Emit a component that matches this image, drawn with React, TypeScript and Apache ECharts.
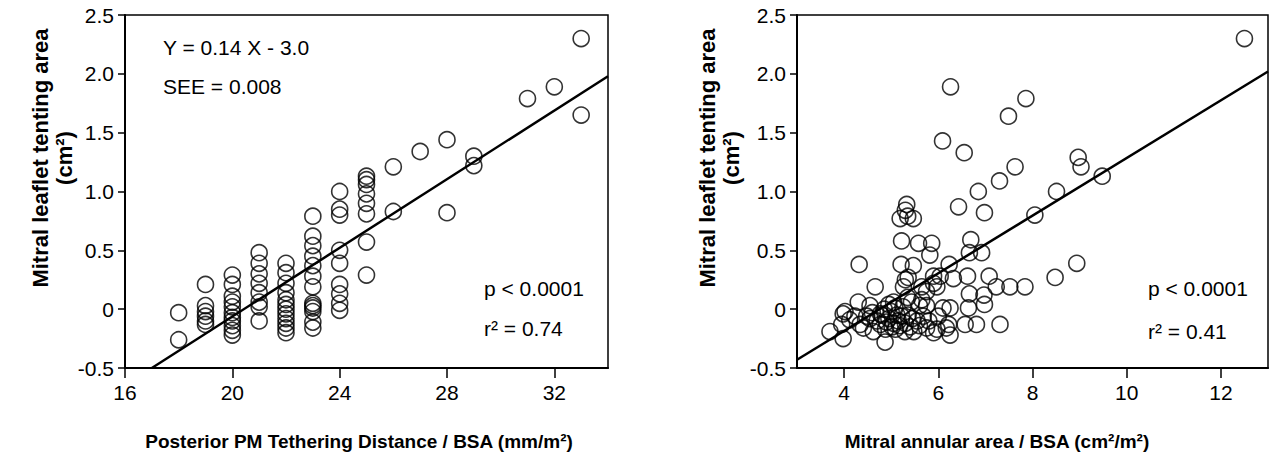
import React, { useEffect, useRef } from "react";
import * as echarts from "echarts";

const FONT = "'Liberation Sans', Arial, sans-serif";

// Left panel: posterior PM tethering distance / BSA vs tenting area
const leftPoints: [number, number][] = [
  [18, -0.03], [18, -0.26],
  [19, 0.21], [19, 0.03], [19, -0.02], [19, -0.06], [19, -0.1], [19, -0.13],
  [20, 0.29], [20, 0.21], [20, 0.11], [20, 0.06], [20, 0.02], [20, -0.03], [20, -0.07], [20, -0.1], [20, -0.14], [20, -0.18], [20, -0.22],
  [21, 0.48], [21, 0.39], [21, 0.3], [21, 0.22], [21, 0.14], [21, 0.06], [21, 0.02], [21, -0.1],
  [22, 0.39], [22, 0.31], [22, 0.22], [22, 0.14], [22, 0.08], [22, 0.04], [22, 0.0], [22, -0.04], [22, -0.08], [22, -0.12], [22, -0.16], [22, -0.2],
  [23, 0.79], [23, 0.62], [23, 0.54], [23, 0.45], [23, 0.37], [23, 0.28], [23, 0.19], [23, 0.05], [23, 0.03], [23, 0.01], [23, -0.02], [23, -0.11], [23, -0.16],
  [24, 1.0], [24, 0.85], [24, 0.8], [24, 0.5], [24, 0.39], [24, 0.21], [24, 0.13], [24, 0.05], [24, -0.01],
  [25, 1.13], [25, 1.1], [25, 1.06], [25, 0.98], [25, 0.9], [25, 0.81], [25, 0.57], [25, 0.29],
  [26, 1.21], [26, 0.83],
  [27, 1.34],
  [28, 1.44], [28, 0.82],
  [29, 1.3], [29, 1.22],
  [31, 1.79],
  [32, 1.89],
  [33, 2.3], [33, 1.65],
];
const leftFitLine: [number, number][] = [[17.0, -0.5], [34, 1.98]];
const leftXTicks = [16, 20, 24, 28, 32];

// Right panel: mitral annular area / BSA vs tenting area
const rightPoints: [number, number][] = [
  [12.5, 2.3], [6.26, 1.89], [7.86, 1.79], [7.49, 1.64], [6.09, 1.43], [6.55, 1.33],
  [8.97, 1.29], [9.03, 1.21], [7.63, 1.21], [9.48, 1.13], [7.3, 1.09], [6.85, 1.0],
  [8.51, 1.0], [6.43, 0.87], [6.98, 0.82], [8.05, 0.8],
  [5.33, 0.89], [5.3, 0.84], [5.19, 0.77], [5.47, 0.77], [5.35, 0.79],
  [5.22, 0.58], [5.58, 0.56], [5.86, 0.56], [5.82, 0.46], [6.69, 0.59], [6.66, 0.48], [6.92, 0.48],
  [4.32, 0.38], [5.21, 0.38], [5.47, 0.37], [6.23, 0.38], [8.94, 0.39],
  [8.48, 0.27], [7.08, 0.28], [6.62, 0.28], [6.32, 0.26], [5.9, 0.28], [5.36, 0.27],
  [4.66, 0.19], [5.26, 0.19], [5.65, 0.19], [5.97, 0.19], [7.23, 0.19], [7.52, 0.19], [7.84, 0.19],
  [6.66, 0.13], [6.97, 0.12], [6.98, 0.04], [6.64, 0.01], [4.3, 0.06],
  [5.75, 0.15], [5.9, 0.22], [5.3, 0.25], [6.04, 0.28],
  [4.02, -0.02], [3.98, -0.04], [3.7, -0.19], [3.98, -0.25], [3.95, -0.13], [4.34, -0.13],
  [4.55, -0.08], [4.87, -0.28], [4.62, -0.19], [6.57, -0.13], [6.81, -0.13], [7.31, -0.13],
  [6.25, -0.22], [5.9, -0.2], [5.29, -0.19], [6.25, 0.01], [6.22, -0.13], [6.0, -0.06],
  [5.68, -0.06], [5.75, -0.16], [5.43, 0.06], [5.36, -0.05], [5.08, 0.01], [4.95, 0.04],
  [4.8, -0.05], [4.77, -0.13], [5.05, -0.12], [4.48, -0.06], [4.23, -0.06], [5.6, 0.03],
  [5.09, -0.17], [5.48, -0.19], [4.77, -0.04], [5.22, -0.06], [5.05, 0.06], [5.75, 0.03],
  [6.1, 0.01], [5.97, -0.17], [6.17, -0.16], [4.55, 0.03], [4.88, -0.17], [4.41, -0.16],
  [4.12, -0.09], [5.65, 0.08], [5.15, -0.1], [4.95, -0.08], [5.3, -0.12], [5.0, -0.02],
  [5.4, -0.15], [5.55, -0.1],
  [4.9, -0.11], [5.12, -0.05], [5.25, 0.02], [5.18, -0.14], [4.7, -0.1], [5.45, -0.08],
  [5.02, -0.15], [4.85, 0.0], [5.35, 0.1], [5.6, -0.14], [4.6, -0.03], [5.8, -0.1],
];
const rightFitLine: [number, number][] = [[3, -0.43], [13, 2.02]];
const rightXTicks = [4, 6, 8, 10, 12];

const yMin = -0.5;
const yMax = 2.5;
const yInterval = 0.5;

export default function App() {
  const ref = useRef<HTMLDivElement>(null);
  useEffect(() => {
    if (!ref.current) return;
    const chart = echarts.init(ref.current, undefined, { renderer: "svg" });
    const labelStyle = { color: "#000", fontSize: 21, fontFamily: FONT };
    const yAxisBase = {
      type: "value",
      min: yMin,
      max: yMax,
      interval: yInterval,
      splitLine: { show: false },
      axisLine: { show: true, lineStyle: { color: "#000", width: 2 } },
      axisTick: { show: true, inside: false, length: 7, lineStyle: { color: "#000", width: 1.5 } },
      axisLabel: {
        ...labelStyle,
        margin: 11,
        formatter: (v: number) => (v === 0 ? "0" : v.toFixed(1)),
      },
    };
    const xAxisBase = (min: number, max: number, ticks: number[], idx: number) => ({
      type: "value",
      gridIndex: idx,
      min,
      max,
      splitLine: { show: false },
      axisLine: { show: true, onZero: false, lineStyle: { color: "#000", width: 2 } },
      axisTick: { show: true, inside: false, length: 10, customValues: ticks, lineStyle: { color: "#000", width: 1.5 } },
      axisLabel: { ...labelStyle, margin: 14, customValues: ticks },
    });
    const scatterStyle = {
      type: "scatter",
      symbol: "circle",
      symbolSize: 16,
      itemStyle: { color: "rgba(0,0,0,0)", borderColor: "#000", borderWidth: 1.6 },
      silent: true,
    };
    const lineStyle = {
      type: "line",
      showSymbol: false,
      symbol: "none",
      lineStyle: { color: "#000", width: 2.5 },
      silent: true,
    };
    const textEl = (text: string, x: number, y: number, opts: any = {}) => ({
      type: "text",
      x,
      y,
      rotation: opts.rotation || 0,
      silent: true,
      style: {
        text,
        fill: "#000",
        font: `${opts.bold ? "bold " : ""}${opts.size || 21}px ${FONT}`,
        textAlign: opts.align || "left",
        textVerticalAlign: "middle",
      },
    });
    chart.setOption({
      animation: false,
      grid: [
        { left: 125, top: 15, width: 483, height: 353, show: true, borderColor: "#000", borderWidth: 1.5 },
        { left: 797, top: 15, width: 471, height: 353, show: true, borderColor: "#000", borderWidth: 1.5 },
      ],
      xAxis: [xAxisBase(16, 34, leftXTicks, 0), xAxisBase(3, 13, rightXTicks, 1)],
      yAxis: [
        { ...yAxisBase, gridIndex: 0 },
        { ...yAxisBase, gridIndex: 1 },
      ],
      series: [
        { ...scatterStyle, xAxisIndex: 0, yAxisIndex: 0, data: leftPoints },
        { ...lineStyle, xAxisIndex: 0, yAxisIndex: 0, data: leftFitLine },
        { ...scatterStyle, xAxisIndex: 1, yAxisIndex: 1, data: rightPoints },
        { ...lineStyle, xAxisIndex: 1, yAxisIndex: 1, data: rightFitLine },
      ],
      graphic: [
        textEl("Y = 0.14 X - 3.0", 163, 47),
        textEl("SEE = 0.008", 163, 86),
        textEl("p < 0.0001", 484, 288),
        textEl("r² = 0.74", 484, 328),
        textEl("p < 0.0001", 1148, 288),
        textEl("r² = 0.41", 1148, 331),
        textEl("Mitral leaflet tenting area", 40, 158, { bold: true, size: 22, align: "center", rotation: Math.PI / 2 }),
        textEl("(cm²)", 64, 158, { bold: true, size: 22, align: "center", rotation: Math.PI / 2 }),
        textEl("Mitral leaflet tenting area", 707, 158, { bold: true, size: 22, align: "center", rotation: Math.PI / 2 }),
        textEl("(cm²)", 731, 158, { bold: true, size: 22, align: "center", rotation: Math.PI / 2 }),
        textEl("Posterior PM Tethering Distance / BSA (mm/m²)", 359, 441, { bold: true, size: 19, align: "center" }),
        textEl("Mitral annular area / BSA (cm²/m²)", 997, 441, { bold: true, size: 19, align: "center" }),
      ],
    });
    return () => chart.dispose();
  }, []);
  return (
    <div
      ref={ref}
      style={{ position: "fixed", left: 0, top: 0, width: 1269, height: 469, background: "#fff" }}
    />
  );
}
